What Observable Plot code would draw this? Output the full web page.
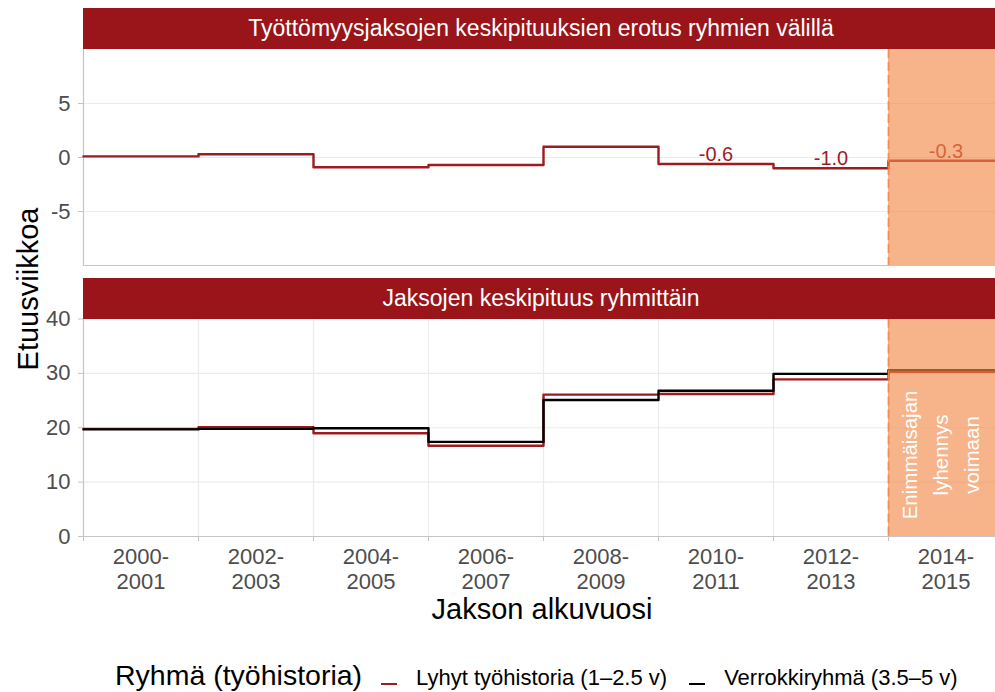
<!DOCTYPE html>
<html>
<head>
<meta charset="utf-8">
<script src="https://cdn.jsdelivr.net/npm/d3@7"></script>
<script src="https://cdn.jsdelivr.net/npm/@observablehq/plot@0.6"></script>
<style>
  html, body { margin: 0; padding: 0; background: #fff; overflow: hidden; }
  #root { position: relative; width: 995px; height: 692px; overflow: hidden;
          font-family: "Liberation Sans", Arial, sans-serif; }
  #root svg { position: absolute; left: 0; }
  .strip { position: absolute; left: 83px; width: 916px; background: #9A1519; color: #fff;
           font-size: 23px; text-align: center; white-space: nowrap; }
  .ylab { position: absolute; left: 28px; top: 289px; font-size: 29px; color: #000; line-height: 1;
          white-space: nowrap; transform: translate(-50%, -50%) rotate(-90deg); }
  .xlab { position: absolute; left: 542px; top: 595px; font-size: 29px; color: #000; line-height: 1;
          white-space: nowrap; transform: translateX(-50%); }
  .legend { position: absolute; left: 115px; top: 661px; display: flex; align-items: baseline;
            white-space: nowrap; line-height: 1; color: #000; }
  .legend .ttl { font-size: 28.5px; margin-right: 19px; }
  .legend .sw { display: inline-block; width: 16px; height: 2.5px; margin-bottom: 7px; margin-right: 19px; }
  .legend .lbl { font-size: 22px; margin-right: 22px; }
</style>
</head>
<body>
<div id="root"></div>
<script>
// ---- data ----
const periods = ["2000-2001", "2002-2003", "2004-2005", "2006-2007", "2008-2009", "2010-2011", "2012-2013", "2014-2015"];
const diffWeeks = [0.1, 0.3, -0.9, -0.7, 1.0, -0.6, -1.0, -0.3];
const shortHistory = [19.8, 20.1, 19.0, 16.7, 26.1, 26.2, 28.9, 30.3];
const controlGroup = [19.7, 19.8, 19.9, 17.4, 25.1, 26.8, 29.9, 30.6];
const labelledPeriods = ["2010-2011", "2012-2013", "2014-2015"];
const reformPeriod = "2014-2015";
const diffTicks = [-5, 0, 5];
const diffDomain = [-10, 10];
const levelTicks = [0, 10, 20, 30, 40];
const levelDomain = [0, 40];
const seriesNames = ["Lyhyt työhistoria (1–2.5 v)", "Verrokkiryhmä (3.5–5 v)"];
const stripTitles = ["Työttömyysjaksojen keskipituuksien erotus ryhmien välillä", "Jaksojen keskipituus ryhmittäin"];
const annotationText = "Enimmäisajan\nlyhennys\nvoimaan";
const yTitle = "Etuusviikkoa";
const xTitle = "Jakson alkuvuosi";
const legendTitle = "Ryhmä (työhistoria)";

// ---- style ----
const RED = "#9E1B1F", BLACK = "#000000", ORANGE = "#F28A4A";
const GRID = "#EBEBEB", AXIS = "#C4C4C4", TICKTXT = "#4D4D4D";
const FONT = "'Liberation Sans', Arial, sans-serif";
const panelLeft = 83, periodWidth = 115;

const reformIndex = periods.indexOf(reformPeriod);
const boundaries = d3.range(0, periods.length);
const centers = periods.map((p, i) => i + 0.5);
const stepPoints = (values, group) =>
  values.map((v, i) => ({x: i, y: v, group})).concat([{x: values.length, y: values[values.length - 1], group}]);

const xScale = {domain: [0, periods.length], range: [panelLeft, panelLeft + periods.length * periodWidth]};
const baseStyle = {fontFamily: FONT, fontSize: "22px", background: "transparent", color: TICKTXT};

const root = document.getElementById("root");

// ---- top panel: difference ----
const labelData = periods.map((p, i) => ({x: i + 0.5, y: diffWeeks[i], p}))
  .filter(d => labelledPeriods.includes(d.p));

const topPlot = Plot.plot({
  width: 995, height: 270,
  marginTop: 49, marginBottom: 5, marginLeft: panelLeft, marginRight: 0,
  style: baseStyle,
  x: {...xScale, axis: null},
  y: {domain: diffDomain},
  marks: [
    Plot.gridY(diffTicks, {stroke: GRID, strokeOpacity: 1, strokeWidth: 1.2}),
    Plot.ruleX([0], {stroke: AXIS, strokeWidth: 1.2}),
    Plot.ruleY([diffDomain[0]], {stroke: AXIS, strokeWidth: 1.2}),
    Plot.axisY(diffTicks, {tickSize: 5, tickPadding: 8, stroke: AXIS, fill: TICKTXT, fontSize: 22,
      tickFormat: d => String(d), label: null}),
    Plot.line(stepPoints(diffWeeks, "diff"), {x: "x", y: "y", curve: "step-after", stroke: RED, strokeWidth: 2.4}),
    Plot.text(labelData, {x: "x", y: "y", text: d => d.y.toFixed(1), lineAnchor: "bottom", dy: -3,
      fill: RED, fontSize: 20}),
    Plot.rect([reformIndex], {x1: d => d, x2: d => d + 1, y1: diffDomain[0], y2: diffDomain[1],
      fill: ORANGE, fillOpacity: 0.65}),
    Plot.ruleX([reformIndex], {stroke: ORANGE, strokeOpacity: 0.9, strokeWidth: 1.8, strokeDasharray: "9,4"})
  ]
});
topPlot.style.top = "0px";
root.appendChild(topPlot);

// ---- bottom panel: levels ----
const levelData = stepPoints(shortHistory, seriesNames[0]).concat(stepPoints(controlGroup, seriesNames[1]));

const botPlot = Plot.plot({
  width: 995, height: 330,
  marginTop: 48.5, marginBottom: 64, marginLeft: panelLeft, marginRight: 0,
  style: baseStyle,
  x: {...xScale},
  y: {domain: levelDomain},
  marks: [
    Plot.gridY(levelTicks, {stroke: GRID, strokeOpacity: 1, strokeWidth: 1.2}),
    Plot.gridX(boundaries.slice(1), {stroke: GRID, strokeOpacity: 1, strokeWidth: 1.2}),
    Plot.ruleX([0], {stroke: AXIS, strokeWidth: 1.2}),
    Plot.ruleY([levelDomain[0]], {stroke: AXIS, strokeWidth: 1.2}),
    Plot.axisY(levelTicks, {tickSize: 5, tickPadding: 8, stroke: AXIS, fill: TICKTXT, fontSize: 22, label: null}),
    Plot.axisX(boundaries, {tickSize: 5, stroke: AXIS, fill: "none", label: null}),
    Plot.axisX(centers, {tickSize: 0, tickPadding: 10, fill: TICKTXT, fontSize: 22, lineHeight: 1.14,
      tickFormat: d => periods[Math.floor(d)].replace("-", "-\n"), label: null}),
    Plot.line(levelData.filter(d => d.group === seriesNames[0]), {x: "x", y: "y", curve: "step-after", stroke: RED, strokeWidth: 2.4}),
    Plot.line(levelData.filter(d => d.group === seriesNames[1]), {x: "x", y: "y", curve: "step-after", stroke: BLACK, strokeWidth: 2.4}),
    Plot.rect([reformIndex], {x1: d => d, x2: d => d + 1, y1: levelDomain[0], y2: levelDomain[1],
      fill: ORANGE, fillOpacity: 0.65}),
    Plot.ruleX([reformIndex], {stroke: ORANGE, strokeOpacity: 0.9, strokeWidth: 1.8, strokeDasharray: "9,4"}),
    Plot.text([annotationText], {x: reformIndex + 0.43, y: 15, rotate: -90, fill: "white", fontSize: 20.5,
      lineHeight: 1.5, textAnchor: "middle", lineAnchor: "middle"})
  ]
});
botPlot.style.top = "270px";
root.appendChild(botPlot);

// ---- strips, titles, legend ----
function addDiv(cls, text, css) {
  const d = document.createElement("div");
  d.className = cls; d.textContent = text;
  Object.assign(d.style, css || {});
  root.appendChild(d);
  return d;
}
addDiv("strip", stripTitles[0], {top: "8px", height: "41px", lineHeight: "41px"});
addDiv("strip", stripTitles[1], {top: "278px", height: "40.5px", lineHeight: "40px"});
addDiv("ylab", yTitle);
addDiv("xlab", xTitle);

const legend = document.createElement("div");
legend.className = "legend";
const ttl = document.createElement("span"); ttl.className = "ttl"; ttl.textContent = legendTitle; legend.appendChild(ttl);
[[seriesNames[0], RED], [seriesNames[1], BLACK]].forEach(([name, col]) => {
  const sw = document.createElement("span"); sw.className = "sw"; sw.style.background = col; legend.appendChild(sw);
  const lb = document.createElement("span"); lb.className = "lbl"; lb.textContent = name; legend.appendChild(lb);
});
root.appendChild(legend);
</script>
</body>
</html>
